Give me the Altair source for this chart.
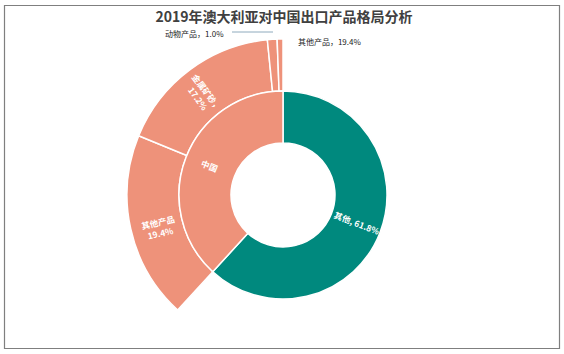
import altair as alt
import pandas as pd
import math

# ---- data ----
inner_names = ["其他", "中国"]
inner_values = [61.8, 38.2]
inner_text = ["其他, 61.8%", "中国"]

outer_names = ["其他产品", "金属矿砂", "动物产品", "其他产品(小)"]
outer_values = [19.4, 17.2, 1.0, 0.6]
outer_text = ["其他产品\n19.4%", "金属矿砂，\n17.2%", "动物产品，1.0%", "其他产品，19.4%"]

title_text = "2019年澳大利亚对中国出口产品格局分析"

TEAL = "#00897e"
SALMON = "#ee927a"
CX, CY = 283, 195

inner = pd.DataFrame({"name": inner_names, "value": inner_values, "label": inner_text})
inner["end"] = inner["value"].cumsum()
inner["start"] = inner["end"] - inner["value"]
inner["mid"] = (inner["start"] + inner["end"]) / 2
inner["color"] = [TEAL, SALMON]

offset = inner_values[0]
outer = pd.DataFrame({"name": outer_names, "value": outer_values, "label": outer_text})
outer["end"] = outer["value"].cumsum() + offset
outer["start"] = outer["end"] - outer["value"]
outer["mid"] = (outer["start"] + outer["end"]) / 2

theta_scale = alt.Scale(domain=[0, 100], range=[0, 2 * math.pi])
rot_expr = "datum.mid*3.6 < 180 ? datum.mid*3.6 - 90 : (datum.mid*3.6 - 270 + 360) % 360"

FONT = "Noto Sans CJK SC"

inner_arc = alt.Chart(inner).mark_arc(innerRadius=52, outerRadius=104, stroke="white", strokeWidth=1.5).encode(
    theta=alt.Theta("start:Q", scale=theta_scale),
    theta2="end:Q",
    color=alt.Color("color:N", scale=None),
    x=alt.value(CX), y=alt.value(CY),
)

outer_arc = alt.Chart(outer).mark_arc(innerRadius=104, outerRadius=156, stroke="white", strokeWidth=1.5,
                                     color=SALMON).encode(
    theta=alt.Theta("start:Q", scale=theta_scale),
    theta2="end:Q",
    x=alt.value(CX), y=alt.value(CY),
)

inner_lbl = alt.Chart(inner).transform_calculate(rot=rot_expr).mark_text(
    font=FONT, fontSize=8.5, fontWeight="bold", color="white", lineBreak="\n"
).encode(
    theta=alt.Theta("mid:Q", scale=theta_scale),
    radius=alt.value(79),
    angle=alt.Angle("rot:Q", scale=None),
    text="label:N",
    x=alt.value(CX), y=alt.value(CY),
)

outer_big = outer.iloc[:2]
outer_lbl = alt.Chart(outer_big).transform_calculate(rot=rot_expr).mark_text(
    font=FONT, fontSize=8.5, fontWeight="bold", color="white", lineBreak="\n", lineHeight=11
).encode(
    theta=alt.Theta("mid:Q", scale=theta_scale),
    radius=alt.value(128),
    angle=alt.Angle("rot:Q", scale=None),
    text="label:N",
    x=alt.value(CX), y=alt.value(CY),
)

small1 = alt.Chart(outer.iloc[[2]]).mark_text(
    font=FONT, fontSize=8, color="#222222", align="right", dx=-48, dy=5
).encode(
    theta=alt.Theta("mid:Q", scale=theta_scale),
    radius=alt.value(165),
    text="label:N",
    x=alt.value(CX), y=alt.value(CY),
)
small2 = alt.Chart(outer.iloc[[3]]).mark_text(
    font=FONT, fontSize=8, color="#222222", align="left", dx=18, dy=13
).encode(
    theta=alt.Theta("mid:Q", scale=theta_scale),
    radius=alt.value(165),
    text="label:N",
    x=alt.value(CX), y=alt.value(CY),
)

leader = alt.Chart(pd.DataFrame({"a": [0]})).mark_rule(color="#8eaabd", strokeWidth=1).encode(
    x=alt.value(232), x2=alt.value(273), y=alt.value(32)
)

title = alt.Chart(pd.DataFrame({"t": [title_text]})).mark_text(
    font=FONT, fontSize=14, fontWeight="bold", color="#404040"
).encode(text="t:N", x=alt.value(284), y=alt.value(18))

border = alt.Chart(pd.DataFrame({"a": [0]})).mark_rect(fill=None, stroke="#7f7f7f", strokeWidth=1.2).encode(
    x=alt.value(4.5), x2=alt.value(559.5), y=alt.value(5.5), y2=alt.value(348.5)
)

chart = alt.layer(border, title, outer_arc, inner_arc, inner_lbl, outer_lbl, leader, small1, small2).properties(
    width=564, height=354, autosize=alt.AutoSizeParams(type="none"), padding=0
).configure_view(stroke=None)

chart.save("out.html", embed_options={"renderer": "svg", "actions": False})
